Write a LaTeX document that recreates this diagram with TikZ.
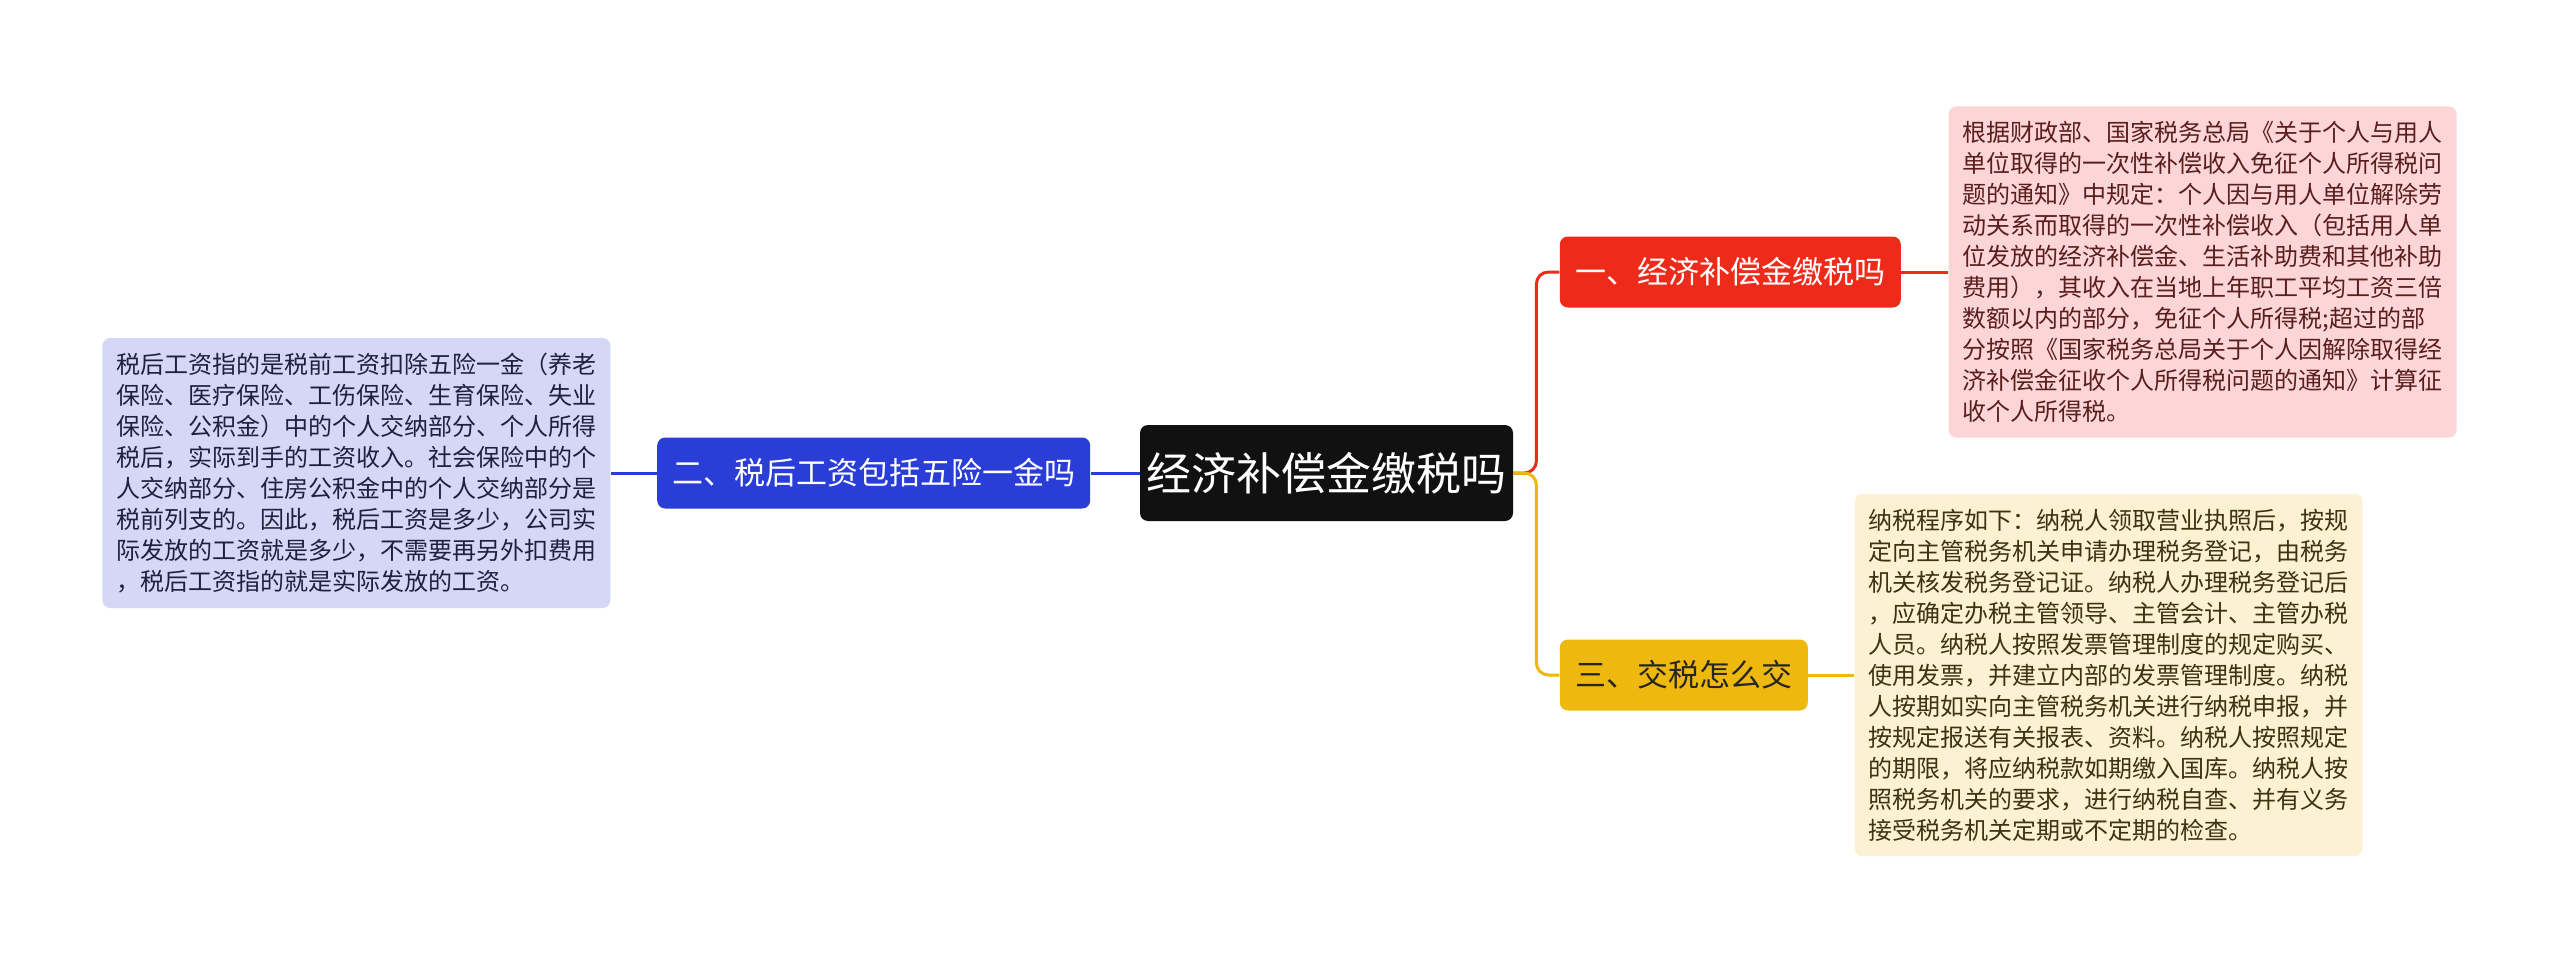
\documentclass[tikz,border=0pt]{standalone}
\usepackage{fontspec}
\setmainfont{Noto Sans CJK SC}
\usepackage{xcolor}
\usepackage{tikz}
\usetikzlibrary{positioning}

\definecolor{rootbg}{HTML}{111111}
\definecolor{bluebg}{HTML}{2A3DD6}
\definecolor{redbg}{HTML}{EE2B1B}
\definecolor{yellowbg}{HTML}{EFB80E}
\definecolor{bluenote}{HTML}{D4D7F6}
\definecolor{rednote}{HTML}{FCD6D6}
\definecolor{yellownote}{HTML}{FDF1D4}
\definecolor{bluetext}{HTML}{1E2040}
\definecolor{redtext}{HTML}{5A1E1E}
\definecolor{yellowtext}{HTML}{3E3210}

\begin{document}
\begin{tikzpicture}[
  x=0.5pt, y=-0.5pt,
  box/.style={rectangle, rounded corners=4pt, align=center, inner sep=0pt},
  topic/.style={box, fill=rootbg, text=white, font=\fontsize{22.5pt}{27pt}\selectfont,
    minimum width=186.5pt, minimum height=48pt},
  branch/.style={box, text=white, font=\fontsize{15.5pt}{18pt}\selectfont, minimum height=35.5pt},
  detail/.style={rectangle, rounded corners=4pt, align=left, text width=240pt,
    inner xsep=7pt, inner ysep=7.5pt, font=\fontsize{12pt}{15.5pt}\selectfont},
  link/.style={line width=1.5pt, rounded corners=6pt},
]

\useasboundingbox (0,0) rectangle (2560,963);

% central topic
\node[topic] (root) at (1326.5,473) {经济补偿金缴税吗};

% left branch
\node[branch, fill=bluebg, minimum width=216.5pt, left=24.5pt of root] (tax) {二、税后工资包括五险一金吗};
\node[detail, fill=bluenote, text=bluetext, left=23pt of tax] (taxnote) {税后工资指的是税前工资扣除五险一金（养老\\
保险、医疗保险、工伤保险、生育保险、失业\\
保险、公积金）中的个人交纳部分、个人所得\\
税后，实际到手的工资收入。社会保险中的个\\
人交纳部分、住房公积金中的个人交纳部分是\\
税前列支的。因此，税后工资是多少，公司实\\
际发放的工资就是多少，不需要再另外扣费用\\
，税后工资指的就是实际发放的工资。};

% right branches
\node[branch, fill=redbg, minimum width=170.5pt, right=23pt of root, yshift=100.5pt] (comp) {一、经济补偿金缴税吗};
\node[detail, fill=rednote, text=redtext, right=23.5pt of comp] (compnote) {根据财政部、国家税务总局《关于个人与用人\\
单位取得的一次性补偿收入免征个人所得税问\\
题的通知》中规定：个人因与用人单位解除劳\\
动关系而取得的一次性补偿收入（包括用人单\\
位发放的经济补偿金、生活补助费和其他补助\\
费用），其收入在当地上年职工平均工资三倍\\
数额以内的部分，免征个人所得税;超过的部\\
分按照《国家税务总局关于个人因解除取得经\\
济补偿金征收个人所得税问题的通知》计算征\\
收个人所得税。};

\node[branch, fill=yellowbg, text=black!85, minimum width=124pt, right=23pt of root, yshift=-101pt] (pay) {三、交税怎么交};
\node[detail, fill=yellownote, text=yellowtext, right=23pt of pay] (paynote) {纳税程序如下：纳税人领取营业执照后，按规\\
定向主管税务机关申请办理税务登记，由税务\\
机关核发税务登记证。纳税人办理税务登记后\\
，应确定办税主管领导、主管会计、主管办税\\
人员。纳税人按照发票管理制度的规定购买、\\
使用发票，并建立内部的发票管理制度。纳税\\
人按期如实向主管税务机关进行纳税申报，并\\
按规定报送有关报表、资料。纳税人按照规定\\
的期限，将应纳税款如期缴入国库。纳税人按\\
照税务机关的要求，进行纳税自查、并有义务\\
接受税务机关定期或不定期的检查。};

% connectors
\draw[link, bluebg] (root.west) -- (tax.east);
\draw[link, bluebg] (tax.west) -- (taxnote.east);
\draw[link, redbg] (root.east) -- ++(23,0) |- (comp.west);
\draw[link, yellowbg] (root.east) -- ++(23,0) |- (pay.west);
\draw[link, redbg] (comp.east) -- (compnote.west);
\draw[link, yellowbg] (pay.east) -- (paynote.west);

\end{tikzpicture}
\end{document}
